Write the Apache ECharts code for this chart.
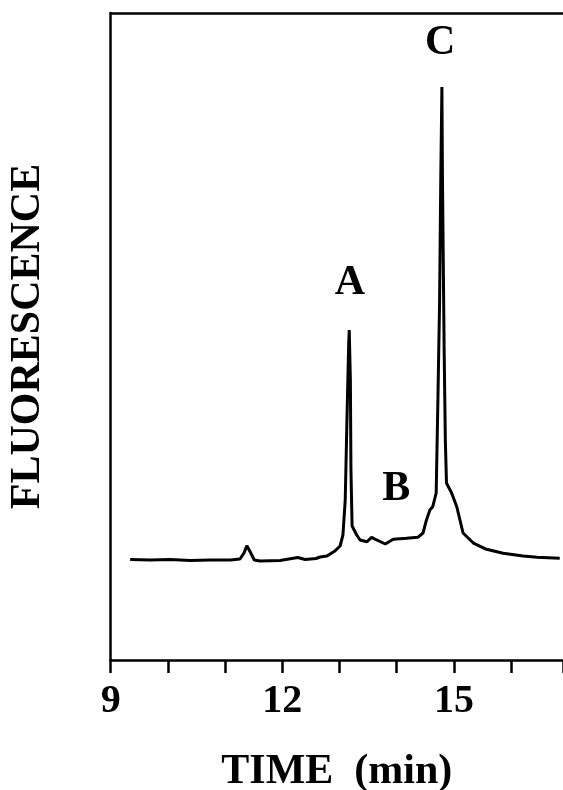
<!DOCTYPE html>
<html>
<head>
<meta charset="utf-8">
<script src="https://cdn.jsdelivr.net/npm/echarts@6/dist/echarts.min.js"></script>
<style>html,body{margin:0;padding:0;background:#fff}#c{width:563px;height:790px}</style>
</head>
<body>
<div id="c"></div>
<script>
// Time (min)
const times = [9.34,9.69,10.04,10.39,10.74,11.09,11.26,11.33,11.38,11.44,11.51,11.61,11.96,12.27,12.40,12.59,12.66,12.78,12.92,13.01,13.06,13.10,13.13,13.16,13.17,13.19,13.20,13.22,13.30,13.36,13.48,13.56,13.65,13.80,13.94,14.17,14.37,14.46,14.52,14.58,14.63,14.69,14.72,14.75,14.77,14.79,14.80,14.83,14.85,14.87,14.96,15.05,15.16,15.34,15.57,15.86,16.21,16.45,16.85];
// Fluorescence (arbitrary units, 0-100)
const fluor = [15.53,15.46,15.53,15.38,15.46,15.46,15.61,16.54,17.66,16.69,15.46,15.30,15.38,15.84,15.53,15.69,15.92,16.07,16.85,17.62,19.32,24.73,37.09,48.69,51.0,43.28,29.37,20.71,19.32,18.55,18.28,18.96,18.55,17.93,18.66,18.81,18.96,19.63,21.64,23.18,23.69,25.81,40.19,55.64,74.19,88.56,74.19,47.45,34.0,27.36,25.81,23.69,19.63,18.08,17.11,16.49,16.07,15.87,15.71];
// Peak labels
const peakNames = ['A','B','C'];
const peakTimes = [13.18,13.99,14.76];
const peakLabelY = [58.3,26.4,95.4];
const tickLabels = ['9','12','15'];

const FONT = 'Liberation Serif';
const chart = echarts.init(document.getElementById('c'), null, {renderer:'canvas'});
chart.setOption({
  animation:false,
  backgroundColor:'#fff',
  grid:{left:110.7, top:13, bottom:130, right:0, containLabel:false, outerBoundsMode:'none'},
  xAxis:[{
    type:'value', min:9, max:16.907, interval:1, position:'bottom',
    name:'TIME  (min)', nameLocation:'middle', nameGap:91,
    nameTextStyle:{fontFamily:FONT, fontWeight:'bold', fontSize:42, color:'#000'},
    axisLine:{show:true, lineStyle:{color:'#000', width:2.5}},
    axisTick:{show:true, inside:false, length:13, lineStyle:{color:'#000', width:2.5}},
    axisLabel:{show:true, margin:22, fontFamily:FONT, fontWeight:'bold', fontSize:40, color:'#000',
      formatter:v => tickLabels.includes(String(Math.round(v))) && Math.abs(v-Math.round(v))<1e-6 ? String(Math.round(v)) : ''},
    splitLine:{show:false}
  },{
    type:'value', min:9, max:16.907, position:'top',
    axisLine:{show:true, lineStyle:{color:'#000', width:2.5}},
    axisTick:{show:false}, axisLabel:{show:false}, splitLine:{show:false}
  }],
  yAxis:{
    type:'value', min:0, max:100,
    name:'FLUORESCENCE', nameLocation:'middle', nameGap:62, nameRotate:90,
    nameTextStyle:{fontFamily:FONT, fontWeight:'bold', fontSize:42, color:'#000'},
    axisLine:{show:true, lineStyle:{color:'#000', width:2.5}},
    axisTick:{show:false}, axisLabel:{show:false}, splitLine:{show:false}
  },
  series:[{
    type:'line', data:times.map((t,i)=>[t,fluor[i]]), showSymbol:false, symbol:'none',
    lineStyle:{color:'#000', width:3}, smooth:false
  },{
    type:'scatter', symbolSize:0, itemStyle:{opacity:1},
    data:peakNames.map((n,i)=>({name:n, value:[peakTimes[i], peakLabelY[i]]})),
    label:{show:true, position:'inside', formatter:p=>p.name, fontFamily:FONT, fontWeight:'bold', fontSize:42, color:'#000', textBorderWidth:0, opacity:1}
  }]
});
</script>
</body>
</html>
